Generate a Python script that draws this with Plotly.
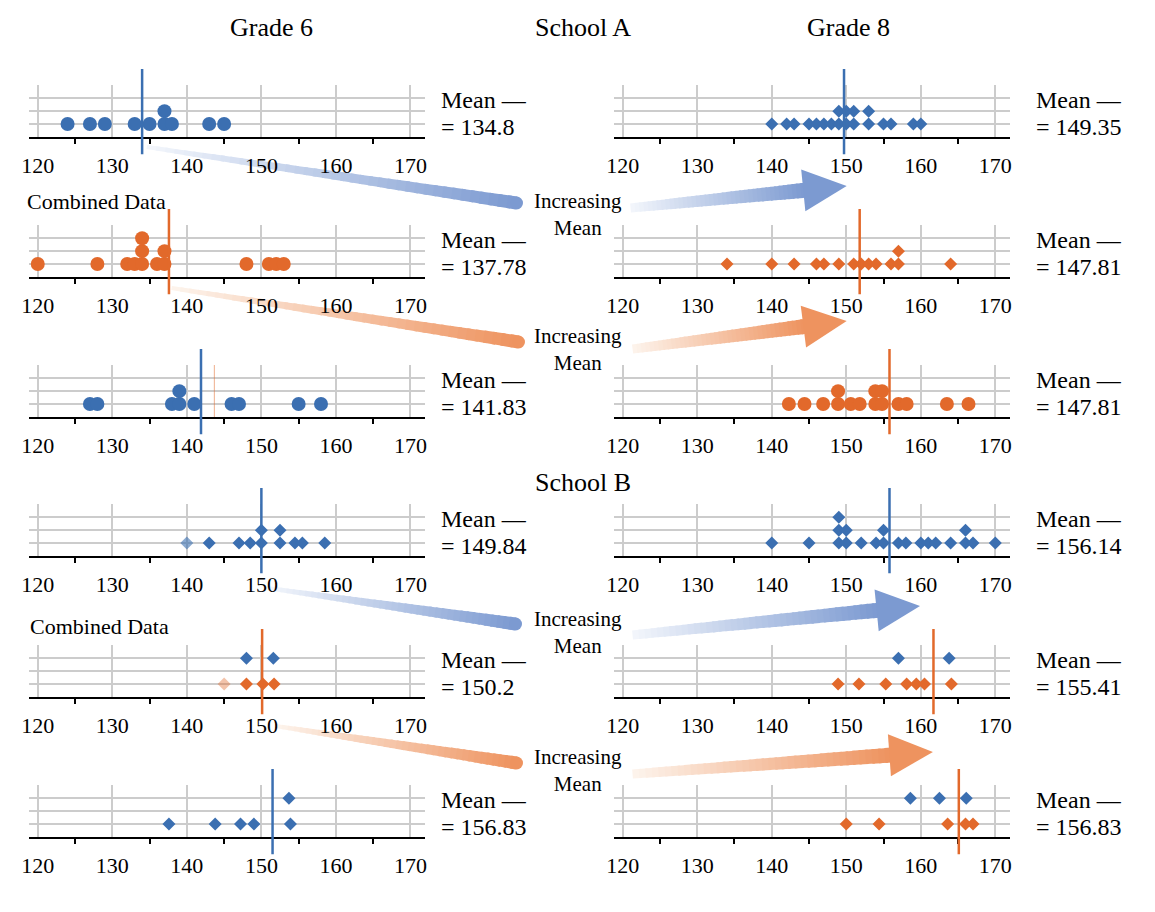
import plotly.graph_objects as go

W, H = 1155, 912
FONT = "Liberation Serif"
BLUE = "#3b6fb1"
ORANGE = "#e2692b"
GRID = "#cccccc"

# ---------------- data ----------------
tick_vals = [120, 130, 140, 150, 160, 170]
tick_text = ["120", "130", "140", "150", "160", "170"]
minor_ticks = [125, 135, 145, 155, 165]

# Grade 6, School A (blue circles)
g6a_x = [124, 127, 129, 133, 135, 137, 138, 143, 145, 137]
g6a_lvl = [1, 1, 1, 1, 1, 1, 1, 1, 1, 2]
# Grade 6 combined, School A (orange circles)
g6ac_x = [120, 128, 132, 133, 134, 136, 137, 148, 151, 152, 153, 134, 137, 134]
g6ac_lvl = [1, 1, 1, 1, 1, 1, 1, 1, 1, 1, 1, 2, 2, 3]
# Grade 6 third panel, School A (blue circles)
g6a3_x = [127, 128, 138, 139, 141, 146, 147, 155, 158, 139]
g6a3_lvl = [1, 1, 1, 1, 1, 1, 1, 1, 1, 2]
# Grade 6, School B (blue diamonds)
g6b_x = [143, 147, 148.5, 150, 152.5, 154.5, 155.5, 158.5, 150, 152.5]
g6b_lvl = [1, 1, 1, 1, 1, 1, 1, 1, 2, 2]
g6b_faded_x = [140]
g6b_faded_lvl = [1]
# Grade 6 combined, School B
g6bc_orange_x = [148, 150.2, 151.7]
g6bc_orange_lvl = [1, 1, 1]
g6bc_faded_x = [145]
g6bc_faded_lvl = [1]
g6bc_blue_x = [148, 151.6]
g6bc_blue_lvl = [3, 3]
# Grade 6 third panel, School B (blue diamonds)
g6b3_x = [137.6, 143.8, 147.2, 149, 153.9, 153.7]
g6b3_lvl = [1, 1, 1, 1, 1, 3]

# Grade 8, School A (blue diamonds)
g8a_x = [140, 142, 143, 145, 146, 147, 148, 149, 150, 151, 153, 155, 156, 159, 160,
         149, 150, 151, 153]
g8a_lvl = [1, 1, 1, 1, 1, 1, 1, 1, 1, 1, 1, 1, 1, 1, 1, 2, 2, 2, 2]
# Grade 8 combined, School A (orange diamonds)
g8ac_x = [134, 140, 143, 146, 147, 149, 151, 152, 153, 154, 156, 157, 164, 157]
g8ac_lvl = [1, 1, 1, 1, 1, 1, 1, 1, 1, 1, 1, 1, 1, 2]
# Grade 8 third panel, School A (orange circles)
g8a3_x = [142.3, 144.4, 146.9, 148.9, 150.6, 151.8, 153.9, 154.8, 157, 158.1, 163.5, 166.4,
          148.9, 153.9, 154.8]
g8a3_lvl = [1, 1, 1, 1, 1, 1, 1, 1, 1, 1, 1, 1, 2, 2, 2]
# Grade 8, School B (blue diamonds)
g8b_x = [140, 145, 149, 150, 152, 154, 155, 157, 158, 160, 161, 162, 164, 166, 167, 170,
         149, 150, 155, 166, 149]
g8b_lvl = [1, 1, 1, 1, 1, 1, 1, 1, 1, 1, 1, 1, 1, 1, 1, 1, 2, 2, 2, 2, 3]
# Grade 8 combined, School B
g8bc_orange_x = [148.9, 151.7, 155.3, 158.1, 159.4, 160.5, 164.1]
g8bc_orange_lvl = [1, 1, 1, 1, 1, 1, 1]
g8bc_blue_x = [157, 163.8]
g8bc_blue_lvl = [3, 3]
# Grade 8 third panel, School B
g8b3_orange_x = [150, 154.4, 163.6, 166, 167]
g8b3_orange_lvl = [1, 1, 1, 1, 1]
g8b3_blue_x = [158.6, 162.5, 166.1]
g8b3_blue_lvl = [3, 3, 3]

# mean marker lines (as drawn) and printed mean labels
mean_line_pos = [134.0, 149.7, 137.6, 151.8, 141.9, 155.8, 150.0, 155.8, 150.1, 161.7, 151.5, 165.1]
mean_line_col = ["b", "b", "o", "o", "b", "o", "b", "b", "o", "o", "b", "o"]
mean_labels = ["134.8", "149.35", "137.78", "147.81", "141.83", "147.81",
               "149.84", "156.14", "150.2", "155.41", "156.83", "156.83"]
faint_line_pos = 143.7   # faint orange line in the 3rd Grade-6 panel

# ---------------- layout geometry (pixels) ----------------
ROW_AXIS = [137, 277, 417, 556, 697, 837]
PANEL_H = 52
COL_X = [(21, 421), (611, 1011)]
XRANGE = [118.8, 172.0]

C = {"b": BLUE, "o": ORANGE}

panels = [
    [(g6a_x, g6a_lvl, "b", "circle", 1.0)],
    [(g8a_x, g8a_lvl, "b", "diamond", 1.0)],
    [(g6ac_x, g6ac_lvl, "o", "circle", 1.0)],
    [(g8ac_x, g8ac_lvl, "o", "diamond", 1.0)],
    [(g6a3_x, g6a3_lvl, "b", "circle", 1.0)],
    [(g8a3_x, g8a3_lvl, "o", "circle", 1.0)],
    [(g6b_x, g6b_lvl, "b", "diamond", 1.0), (g6b_faded_x, g6b_faded_lvl, "b", "diamond", 0.6)],
    [(g8b_x, g8b_lvl, "b", "diamond", 1.0)],
    [(g6bc_orange_x, g6bc_orange_lvl, "o", "diamond", 1.0),
     (g6bc_faded_x, g6bc_faded_lvl, "o", "diamond", 0.4),
     (g6bc_blue_x, g6bc_blue_lvl, "b", "diamond", 1.0)],
    [(g8bc_orange_x, g8bc_orange_lvl, "o", "diamond", 1.0),
     (g8bc_blue_x, g8bc_blue_lvl, "b", "diamond", 1.0)],
    [(g6b3_x, g6b3_lvl, "b", "diamond", 1.0)],
    [(g8b3_orange_x, g8b3_orange_lvl, "o", "diamond", 1.0),
     (g8b3_blue_x, g8b3_blue_lvl, "b", "diamond", 1.0)],
]

fig = go.Figure()
layout = dict(
    width=W, height=H, margin=dict(l=0, r=0, t=0, b=0),
    paper_bgcolor="white", plot_bgcolor="rgba(0,0,0,0)",
    showlegend=False, font=dict(family=FONT, size=22, color="black"),
)
shapes = []
annotations = []


def py(y):
    return 1 - y / H


for i, series in enumerate(panels):
    row, col = divmod(i, 2)
    n = "" if i == 0 else str(i + 1)
    xa, ya = "x" + n, "y" + n
    a = ROW_AXIS[row]
    x0, x1 = COL_X[col]
    layout["xaxis" + n] = dict(
        domain=[x0 / W, x1 / W], anchor=ya, range=XRANGE,
        tickvals=tick_vals, ticktext=tick_text, ticks="", ticklen=0,
        showgrid=True, gridcolor=GRID, gridwidth=1.5,
        showline=True, linecolor="black", linewidth=2, zeroline=False,
        tickfont=dict(family=FONT, size=22, color="black"),
        ticklabelstandoff=8,
        minor=dict(tickvals=minor_ticks, ticks="outside", ticklen=5,
                   tickwidth=1.5, tickcolor="black", showgrid=False),
        fixedrange=True,
    )
    layout["yaxis" + n] = dict(
        domain=[py(a), py(a - PANEL_H)], anchor=xa, range=[0, 4.02],
        tickvals=[1, 2, 3, 4], showticklabels=False, ticks="",
        showgrid=True, gridcolor=GRID, gridwidth=1.5,
        showline=False, zeroline=False, fixedrange=True,
    )
    for xs, lv, c, sym, op in series:
        fig.add_trace(go.Scatter(
            x=xs, y=lv, mode="markers", xaxis=xa, yaxis=ya, cliponaxis=False,
            marker=dict(symbol=sym, size=14 if sym == "circle" else 10,
                        color=C[c], opacity=op, line=dict(width=0)),
            hoverinfo="skip",
        ))
    shapes.append(dict(type="line", xref=xa, yref=ya + " domain",
                       x0=mean_line_pos[i], x1=mean_line_pos[i], y0=-0.33, y1=1.31,
                       line=dict(color=C[mean_line_col[i]], width=2.5), layer="above"))
    if i == 4:
        shapes.append(dict(type="line", xref=xa, yref=ya + " domain",
                           x0=faint_line_pos, x1=faint_line_pos, y0=0, y1=1,
                           line=dict(color=ORANGE, width=1.2), opacity=0.45))
    tx = 435 if col == 0 else 1035
    annotations.append(dict(text="Mean —", xref="paper", yref="paper", x=tx / W, y=py(a - 37),
                            xanchor="left", yanchor="middle", showarrow=False,
                            font=dict(family=FONT, size=24)))
    annotations.append(dict(text="= " + mean_labels[i], xref="paper", yref="paper", x=tx / W,
                            y=py(a - 10), xanchor="left", yanchor="middle", showarrow=False,
                            font=dict(family=FONT, size=24)))

for txt, x, y, anc, sz in [("Grade 6", 266, 28, "center", 26), ("School A", 580, 28, "center", 26),
                           ("Grade 8", 848, 28, "center", 26), ("School B", 580, 483, "center", 26),
                           ("Combined Data", 17, 201, "left", 22),
                           ("Combined Data", 20, 626, "left", 22)]:
    annotations.append(dict(text=txt, xref="paper", yref="paper", x=x / W, y=py(y),
                            xanchor=anc, yanchor="middle", showarrow=False,
                            font=dict(family=FONT, size=sz)))
for yc in [214, 349, 632, 770]:
    annotations.append(dict(text="Increasing<br>Mean", xref="paper", yref="paper", x=575 / W,
                            y=py(yc), xanchor="center", yanchor="middle", showarrow=False,
                            font=dict(family=FONT, size=21)))


def mix(c0, c1, t):
    return "rgb(%d,%d,%d)" % tuple(round(a + (b - a) * t) for a, b in zip(c0, c1))


def band(p0, p1, w0, w1, c0, c1, n=40):
    dx, dy = p1[0] - p0[0], p1[1] - p0[1]
    L = (dx * dx + dy * dy) ** 0.5
    ux, uy = dx / L, dy / L
    nx, ny = -uy, ux
    out = []
    for k in range(n):
        t0 = k / n
        t1 = min(1.0, (k + 1) / n + 0.01)
        pts = []
        for t, s in [(t0, 1), (t1, 1), (t1, -1), (t0, -1)]:
            w = (w0 + (w1 - w0) * t) / 2
            x = p0[0] + dx * t + s * nx * w
            y = p0[1] + dy * t + s * ny * w
            pts.append((x / W, py(y)))
        path = "M" + " L".join("%.5f,%.5f" % p for p in pts) + " Z"
        out.append(dict(type="path", xref="paper", yref="paper", path=path,
                        fillcolor=mix(c0, c1, (t0 + t1) / 2), line=dict(width=0), layer="below"))
    return out


def head(base_from, tip, length, half, color):
    dx, dy = tip[0] - base_from[0], tip[1] - base_from[1]
    L = (dx * dx + dy * dy) ** 0.5
    ux, uy = dx / L, dy / L
    bx, by = tip[0] - ux * length, tip[1] - uy * length
    nx, ny = -uy, ux
    pts = [(tip[0], tip[1]), (bx + nx * half, by + ny * half), (bx - nx * half, by - ny * half)]
    path = "M" + " L".join("%.5f,%.5f" % (x / W, py(y)) for x, y in pts) + " Z"
    return [dict(type="path", xref="paper", yref="paper", path=path,
                 fillcolor=mix(color, color, 1), line=dict(width=0), layer="below")], (bx + ux * 2, by + uy * 2)


def cap(p, r, color):
    return dict(type="circle", xref="paper", yref="paper",
                x0=(p[0] - r) / W, x1=(p[0] + r) / W, y0=py(p[1] + r), y1=py(p[1] - r),
                fillcolor=mix(color, color, 1), line=dict(width=0), layer="below")


BL0, BL1 = (244, 247, 252), (124, 154, 209)
OR0, OR1 = (253, 245, 238), (238, 147, 95)
arrows = [
    ((140, 147), (513, 203), (628, 208), (846, 186), BL0, BL1),
    ((165, 288), (515, 342), (630, 349), (846, 321), OR0, OR1),
    ((262, 588), (512, 624), (630, 635), (920, 606), BL0, BL1),
    ((270, 726), (513, 763), (630, 774), (933, 752), OR0, OR1),
]
for a0, a1, b0, tip, c0, c1 in arrows:
    shapes += band(a0, a1, 4, 13, c0, c1)
    shapes.append(cap(a1, 6.5, c1))
    hs, base = head(b0, tip, 44, 21, c1)
    shapes += band(b0, base, 9, 15, c0, c1)
    shapes += hs

layout["shapes"] = shapes
layout["annotations"] = annotations
fig.update_layout(**layout)
fig.write_html("out.html", config={"displayModeBar": False},
               post_script="document.body.style.margin='0px';document.body.style.overflow='hidden';")
